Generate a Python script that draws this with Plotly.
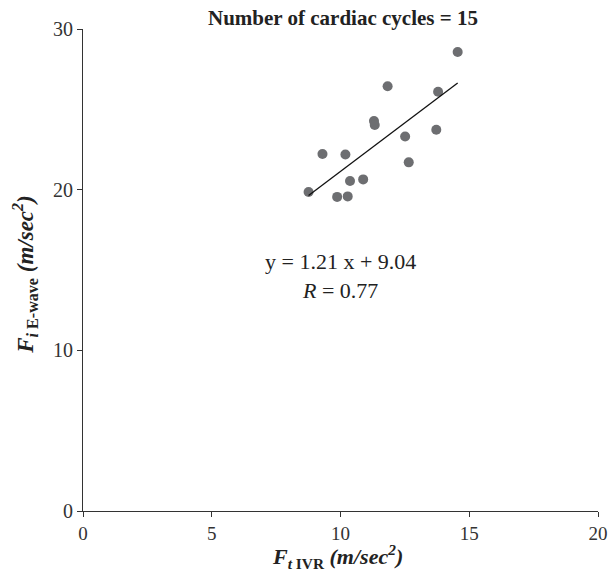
import plotly.graph_objects as go
import numpy as np

x_vals = [8.76, 9.30, 10.19, 9.87, 10.28, 10.37, 10.88, 11.30, 11.33, 11.83, 12.51, 12.65, 13.72, 13.79, 14.55]
y_vals = [19.86, 22.22, 22.19, 19.55, 19.58, 20.54, 20.64, 24.27, 24.02, 26.44, 23.31, 21.70, 23.73, 26.09, 28.57]
slope = 1.21
intercept = 9.04
r_value = 0.77
n_cycles = 15
x_ticks = [0, 5, 10, 15, 20]
y_ticks = [0, 10, 20, 30]

serif = "Liberation Serif, Times New Roman, serif"

fig = go.Figure()
fig.add_trace(go.Scatter(
    x=x_vals, y=y_vals, mode="markers",
    marker=dict(color="#6d6e71", size=10, line=dict(width=0)),
    showlegend=False,
))
xl = np.array([min(x_vals), max(x_vals)])
fig.add_trace(go.Scatter(
    x=xl, y=slope * xl + intercept, mode="lines",
    line=dict(color="#111111", width=1.3), showlegend=False,
))

fig.update_layout(
    width=610, height=571,
    margin=dict(l=83, r=12, t=29, b=60, autoexpand=False),
    plot_bgcolor="white", paper_bgcolor="white",
    font=dict(family=serif, color="#333333", size=19),
    xaxis=dict(range=[0, 20], tickvals=x_ticks, showgrid=False, zeroline=False,
               showline=True, linecolor="#333333", linewidth=1.2, automargin=False,
               ticks="outside", ticklen=5, tickcolor="#333333",
               tickfont=dict(family=serif, size=19, color="#333333")),
    yaxis=dict(range=[0, 30], tickvals=y_ticks, showgrid=False, zeroline=False,
               showline=True, linecolor="#333333", linewidth=1.2, automargin=False,
               ticks="outside", ticklen=5, tickcolor="#333333",
               tickfont=dict(family=serif, size=20, color="#333333")),
)

fig.add_annotation(
    text=f"<b>Number of cardiac cycles = {n_cycles}</b>",
    xref="paper", yref="paper", x=0.505, y=1, yshift=11, showarrow=False,
    font=dict(family=serif, size=21, color="#222222"), yanchor="middle",
)
fig.add_annotation(
    text=f"y = {slope:.2f} x + {intercept:.2f}<br><i>R</i> = {r_value:.2f}",
    xref="x", yref="y", x=10.0, y=14.6, showarrow=False,
    font=dict(family=serif, size=22, color="#222222"), align="center",
)
fig.add_annotation(
    text="<b><i>F</i></b><sub><b><i>t</i> IVR</b></sub><b><i> (m/sec<sup>2</sup>)</i></b>",
    xref="paper", yref="paper", x=0.495, y=0, yshift=-45, showarrow=False,
    font=dict(family=serif, size=22, color="#222222"), yanchor="middle",
)
fig.add_annotation(
    text="<b><i>F</i></b><sub><b><i>i</i> E-wave</b></sub><b><i> (m/sec<sup>2</sup>)</i></b>",
    xref="paper", yref="paper", x=0, y=0.49, xshift=-58, showarrow=False,
    textangle=-90, font=dict(family=serif, size=23, color="#222222"), xanchor="center",
)

fig.write_html("out.html", config={"displayModeBar": False},
               post_script="document.body.style.margin='0px';")
